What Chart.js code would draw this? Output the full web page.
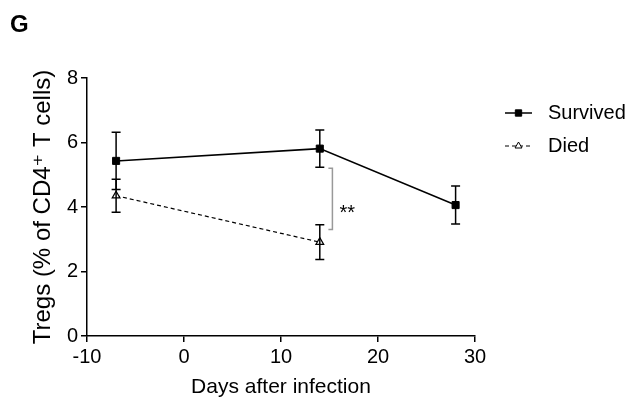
<!DOCTYPE html>
<html>
<head>
<meta charset="utf-8">
<script src="https://cdn.jsdelivr.net/npm/chart.js@4.4.1/dist/chart.umd.min.js"></script>
<style>
  html, body { margin: 0; padding: 0; background: #fff; }
  #wrap { width: 633px; height: 406px; }
</style>
</head>
<body>
<div id="wrap"><canvas id="tregChart" width="633" height="406"></canvas></div>
<script>
// Days after infection
const days = [-7, 14, 28];
const diedDays = [-7, 14];

// Tregs (% of CD4+ T cells), mean and error bar half-width
const survivedMean = [5.43, 5.81, 4.06];
const survivedErr = [0.89, 0.58, 0.59];
const diedMean = [4.35, 2.91];
const diedErr = [0.51, 0.54];

const xTicks = [-10, 0, 10, 20, 30];
const yTicks = [0, 2, 4, 6, 8];

// significance bracket between groups at day 14
const sigBracket = { x: 15.3, top: 5.2, bottom: 3.3, label: '**' };

const FONT = "'Liberation Sans', Arial, Helvetica, 'DejaVu Sans', sans-serif";

// error bars, significance bracket, panel letter and legend
const extrasPlugin = {
  id: 'extras',
  afterDatasetsDraw(chart) {
    const ctx = chart.ctx;
    const xs = chart.scales.x;
    const ys = chart.scales.y;

    ctx.save();
    // error bars
    chart.data.datasets.forEach(ds => {
      ctx.strokeStyle = '#000';
      ctx.lineWidth = 1.5;
      ctx.setLineDash([]);
      ds.data.forEach((pt, i) => {
        const px = xs.getPixelForValue(pt.x);
        const hi = ys.getPixelForValue(pt.y + ds.err[i]);
        const lo = ys.getPixelForValue(pt.y - ds.err[i]);
        ctx.beginPath();
        ctx.moveTo(px, hi); ctx.lineTo(px, lo);
        ctx.moveTo(px - 4.5, hi); ctx.lineTo(px + 4.5, hi);
        ctx.moveTo(px - 4.5, lo); ctx.lineTo(px + 4.5, lo);
        ctx.stroke();
      });
    });

    // bracket
    const bx = xs.getPixelForValue(sigBracket.x);
    const bt = ys.getPixelForValue(sigBracket.top);
    const bb = ys.getPixelForValue(sigBracket.bottom);
    ctx.strokeStyle = '#999';
    ctx.lineWidth = 1.5;
    ctx.beginPath();
    ctx.moveTo(bx - 4, bt); ctx.lineTo(bx, bt); ctx.lineTo(bx, bb); ctx.lineTo(bx - 4, bb);
    ctx.stroke();
    ctx.fillStyle = '#000';
    ctx.font = '20px ' + FONT;
    ctx.textAlign = 'left';
    ctx.textBaseline = 'alphabetic';
    ctx.fillText(sigBracket.label, bx + 7, (bt + bb) / 2 + 20);

    // panel letter
    ctx.font = 'bold 24px ' + FONT;
    ctx.fillText('G', 10, 32);

    // legend
    ctx.font = '20px ' + FONT;
    ctx.textBaseline = 'middle';
    chart.data.datasets.forEach((ds, i) => {
      const ly = 113 + i * 33;
      ctx.strokeStyle = '#000';
      ctx.lineWidth = ds.borderWidth;
      ctx.setLineDash(ds.borderDash || []);
      ctx.beginPath();
      ctx.moveTo(505, ly); ctx.lineTo(532, ly);
      ctx.stroke();
      ctx.setLineDash([]);
      ctx.fillStyle = ds.pointBackgroundColor;
      ctx.strokeStyle = '#000';
      ctx.lineWidth = 1;
      Chart.helpers.drawPoint(ctx, {
        pointStyle: ds.pointStyle,
        radius: ds.pointRadius - 0.5,
        borderWidth: 1,
        rotation: 0
      }, 518.5, ly);
      ctx.fillStyle = '#000';
      ctx.fillText(ds.label, 548, ly);
    });
    ctx.restore();
  }
};

const survivedData = days.map((d, i) => ({ x: d, y: survivedMean[i] }));
const diedData = diedDays.map((d, i) => ({ x: d, y: diedMean[i] }));

new Chart(document.getElementById('tregChart').getContext('2d'), {
  type: 'line',
  data: {
    datasets: [{
      label: 'Survived',
      data: survivedData,
      err: survivedErr,
      borderColor: '#000',
      borderWidth: 1.5,
      pointStyle: 'rect',
      pointRadius: 5,
      pointBackgroundColor: '#000',
      pointBorderColor: '#000',
      pointBorderWidth: 1,
      fill: false
    }, {
      label: 'Died',
      data: diedData,
      err: diedErr,
      borderColor: '#000',
      borderWidth: 1.2,
      borderDash: [4, 3],
      pointStyle: 'triangle',
      pointRadius: 4.5,
      pointBackgroundColor: '#fff',
      pointBorderColor: '#000',
      pointBorderWidth: 1.2,
      fill: false
    }]
  },
  options: {
    responsive: false,
    animation: false,
    layout: {
      padding: { left: 29, right: 158, top: 78, bottom: 0 }
    },
    plugins: {
      legend: { display: false },
      tooltip: { enabled: false },
      title: { display: false }
    },
    scales: {
      x: {
        type: 'linear',
        min: -10,
        max: 30,
        afterBuildTicks: scale => { scale.ticks = xTicks.map(v => ({ value: v })); },
        ticks: {
          color: '#000',
          padding: 3,
          font: { family: FONT, size: 20 }
        },
        grid: {
          display: true,
          drawOnChartArea: false,
          drawTicks: true,
          tickLength: 6,
          color: '#000',
          lineWidth: 1.5
        },
        border: { display: true, color: '#000', width: 1.5 },
        title: {
          display: true,
          text: 'Days after infection',
          color: '#000',
          font: { family: FONT, size: 21 },
          padding: { top: 0, bottom: 6 }
        },
        afterFit: scale => { scale.height = 70; }
      },
      y: {
        type: 'linear',
        min: 0,
        max: 8,
        afterBuildTicks: scale => { scale.ticks = yTicks.map(v => ({ value: v })); },
        ticks: {
          color: '#000',
          padding: 3,
          font: { family: FONT, size: 20 }
        },
        grid: {
          display: true,
          drawOnChartArea: false,
          drawTicks: true,
          tickLength: 6,
          color: '#000',
          lineWidth: 1.5
        },
        border: { display: true, color: '#000', width: 1.5 },
        title: {
          display: true,
          text: 'Tregs (% of CD4\u207A T cells)',
          color: '#000',
          font: { family: FONT, size: 24 },
          padding: { top: 0, bottom: 0 }
        },
        afterFit: scale => { scale.width = 58; }
      }
    }
  },
  plugins: [extrasPlugin]
});
</script>
</body>
</html>
